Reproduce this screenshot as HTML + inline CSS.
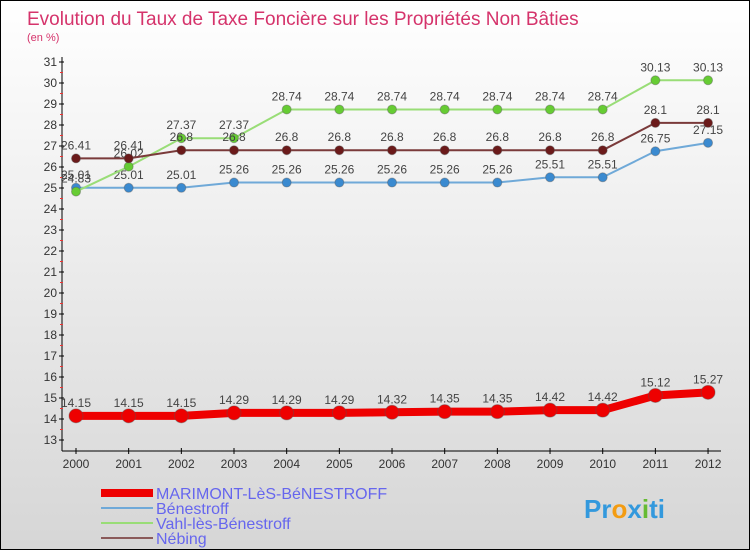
<!DOCTYPE html>
<html><head><meta charset="utf-8"><style>
body{margin:0}
#c{width:750px;height:550px;position:relative;overflow:hidden;background:linear-gradient(#fff,#d6d6d6);box-sizing:border-box;border:1px solid #000;font-family:"Liberation Sans",sans-serif}
</style></head><body>
<div id="c">
<svg id="s" width="750" height="550" style="position:absolute;left:0;top:0"></svg>
</div>
<script>
const years=[2000,2001,2002,2003,2004,2005,2006,2007,2008,2009,2010,2011,2012];
const marimont=[14.15,14.15,14.15,14.29,14.29,14.29,14.32,14.35,14.35,14.42,14.42,15.12,15.27];
const benestroff=[25.01,25.01,25.01,25.26,25.26,25.26,25.26,25.26,25.26,25.51,25.51,26.75,27.15];
const vahl=[24.83,26.02,27.37,27.37,28.74,28.74,28.74,28.74,28.74,28.74,28.74,30.13,30.13];
const nebing=[26.41,26.41,26.8,26.8,26.8,26.8,26.8,26.8,26.8,26.8,26.8,28.1,28.1];
const yTicks=[13,14,15,16,17,18,19,20,21,22,23,24,25,26,27,28,29,30,31];
const seriesNames=["MARIMONT-LèS-BéNESTROFF","Bénestroff","Vahl-lès-Bénestroff","Nébing"];
const NS="http://www.w3.org/2000/svg";const s=document.getElementById('s');
const X=i=>75+i*52.67, Y=v=>439-(v-13)*21;
function el(t,a,p){const e=document.createElementNS(NS,t);for(const k in a)e.setAttribute(k,a[k]);(p||s).appendChild(e);return e;}
let t=el('text',{x:26,y:24,fill:'#d5336b','font-size':19});t.textContent="Evolution du Taux de Taxe Foncière sur les Propriétés Non Bâties";

t=el('text',{x:26,y:40,fill:'#d5336b','font-size':11});t.textContent="(en %)";

let a=el('line',{x1:61,y1:56,x2:61,y2:450,stroke:'#000'});
a=el('line',{x1:61,y1:450,x2:720,y2:450,stroke:'#000'});
yTicks.forEach(v=>{el('line',{x1:58,x2:63,y1:Y(v),y2:Y(v),stroke:'#000'});
 if(v<31)el('line',{x1:59,x2:62,y1:Y(v+0.5),y2:Y(v+0.5),stroke:'#e33'});
 const tt=el('text',{x:56,y:Y(v)+4,'text-anchor':'end','font-size':12,fill:'#333'});tt.textContent=v;
 });
years.forEach((yr,i)=>{el('line',{x1:X(i),x2:X(i),y1:447,y2:453,stroke:'#000'});
 const tt=el('text',{x:X(i),y:467,'text-anchor':'middle','font-size':12,fill:'#333'});tt.textContent=yr;
 });
function series(d,col,w,r,dot,name){const g=el('g',{});
 el('polyline',{points:d.map((v,i)=>X(i)+','+Y(v)).join(' '),fill:'none',stroke:col,'stroke-width':w},g);
 d.forEach((v,i)=>{const c=el('circle',{cx:X(i),cy:Y(v),r:r,fill:dot,stroke:'#555','stroke-opacity':.4},g);
  const tt=el('text',{x:X(i),y:Y(v)-9,'text-anchor':'middle','font-size':12,fill:'#444'},g);tt.textContent=v;});}
series(benestroff,'#6fa9d8',2,4.5,'#3a8ad0','benestroff-series');
series(vahl,'#99dd77',2,4.5,'#66cc33','vahl-series');
series(nebing,'#7a3a3a',2,4.5,'#6b1a1a','nebing-series');
series(marimont,'#ee0000',8,7,'#ee0000','marimont-series');
const leg=[['#ee0000',8],['#6fa9d8',2],['#99dd77',2],['#8a5a5a',2]];
leg.forEach((l,i)=>{const y=492+i*15;const g=el('g',{});
 el('line',{x1:100,x2:152,y1:y,y2:y,stroke:l[0],'stroke-width':l[1]},g);
 const tt=el('text',{x:155,y:y+6,'font-size':16,fill:'#6666ee'},g);tt.textContent=seriesNames[i];});
t=el('text',{x:583,y:517,'font-size':26,'font-weight':'600',fill:'#3399dd'});t.innerHTML='Pr<tspan fill="#f39c12">o</tspan>x<tspan fill="#66bb33">i</tspan>ti';

</script>
</body></html>
